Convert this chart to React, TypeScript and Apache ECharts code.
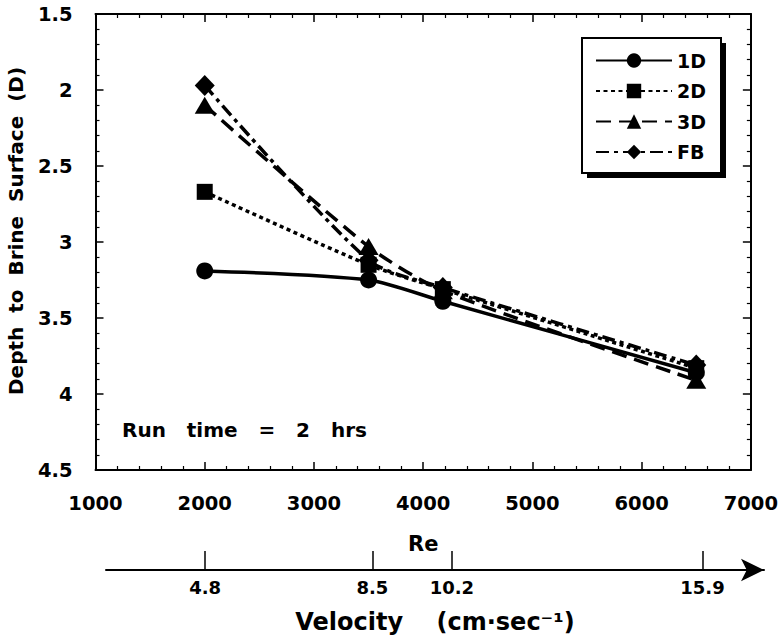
import React, { useEffect, useRef } from "react";
import * as echarts from "echarts";

// ---- data ----
const seriesNames = ["1D", "2D", "3D", "FB"];
const reValues = [2000, 3500, 4180, 6500];
const depth1D = [3.19, 3.25, 3.39, 3.86];
const depth2D = [2.67, 3.15, 3.31, 3.83];
const depth3D = [2.1, 3.03, 3.32, 3.91];
const depthFB = [1.97, 3.12, 3.3, 3.81];
const velocityLabels = ["4.8", "8.5", "10.2", "15.9"];
const velocityRePositions = [2000, 3525, 4250, 6535];

const FONT = "DejaVu Sans";

// layout constants
const GRID_LEFT = 95.5;
const GRID_TOP = 14;
const GRID_W = 658;
const GRID_H = 456;
const RE_MIN = 1000;
const RE_MAX = 7000;
const PX_PER_RE = GRID_W / (RE_MAX - RE_MIN);
const VEL_LEFT = 106;
const VEL_RIGHT = 764;

export default function App() {
  const ref = useRef<HTMLDivElement>(null);

  useEffect(() => {
    if (!ref.current) return;
    const chart = echarts.init(ref.current, undefined, { renderer: "svg" });

    const toPairs = (ys: number[]) => reValues.map((x, i) => [x, ys[i]]);
    const velMin = RE_MIN + (VEL_LEFT - GRID_LEFT) / PX_PER_RE;
    const velMax = RE_MIN + (VEL_RIGHT - GRID_LEFT) / PX_PER_RE;

    const baseText = { fontFamily: FONT, fontWeight: "bold" as const, color: "#000" };

    const mainAxisCommon = {
      axisLine: { onZero: false, lineStyle: { color: "#000", width: 2 } },
      axisTick: { inside: true, length: 8, lineStyle: { color: "#000", width: 1.5 } },
      minorTick: { show: true, splitNumber: 5, length: 4, lineStyle: { color: "#000", width: 1.2 } },
      splitLine: { show: false },
    };

    const seriesDefs = [
      { name: seriesNames[0], data: depth1D, symbol: "circle", symbolSize: 17, line: "solid" as any },
      { name: seriesNames[1], data: depth2D, symbol: "rect", symbolSize: 16, line: [4, 3.5] },
      { name: seriesNames[2], data: depth3D, symbol: "triangle", symbolSize: [20, 17], line: [15, 8] },
      { name: seriesNames[3], data: depthFB, symbol: "diamond", symbolSize: [20, 21], line: [13, 5, 4, 5] },
    ];

    chart.setOption({
      animation: false,
      backgroundColor: "#fff",
      grid: [
        { left: GRID_LEFT, top: GRID_TOP, width: GRID_W, height: GRID_H },
        { left: VEL_LEFT, top: 551, width: VEL_RIGHT - VEL_LEFT, height: 19 },
      ],
      xAxis: [
        {
          ...mainAxisCommon,
          type: "value",
          gridIndex: 0,
          position: "bottom",
          min: RE_MIN,
          max: RE_MAX,
          interval: 1000,
          name: "Re",
          nameLocation: "middle",
          nameGap: 63,
          nameTextStyle: { ...baseText, fontSize: 21 },
          axisLabel: { ...baseText, fontSize: 19.5, margin: 23, formatter: (v: number) => String(v) },
        },
        {
          ...mainAxisCommon,
          type: "value",
          gridIndex: 0,
          position: "top",
          min: RE_MIN,
          max: RE_MAX,
          interval: 1000,
          axisLabel: { show: false },
        },
        {
          type: "value",
          gridIndex: 1,
          position: "bottom",
          min: velMin,
          max: velMax,
          name: "Velocity    (cm·sec⁻¹)",
          nameLocation: "middle",
          nameGap: 40,
          nameTextStyle: { ...baseText, fontSize: 24 },
          axisLine: {
            onZero: false,
            lineStyle: { color: "#000", width: 2 },
            symbol: ["none", "arrow"],
            symbolSize: [17, 23],
          },
          axisTick: {
            inside: true,
            length: 19,
            customValues: velocityRePositions,
            lineStyle: { color: "#000", width: 1.5 },
          },
          axisLabel: {
            ...baseText,
            fontSize: 18,
            margin: 8,
            customValues: velocityRePositions,
            formatter: (v: number) => {
              const idx = velocityRePositions.findIndex((p) => Math.abs(p - v) < 1e-6);
              return idx >= 0 ? velocityLabels[idx] : "";
            },
          },
          splitLine: { show: false },
        },
      ],
      yAxis: [
        {
          ...mainAxisCommon,
          type: "value",
          gridIndex: 0,
          position: "left",
          inverse: true,
          min: 1.5,
          max: 4.5,
          interval: 0.5,
          axisLabel: { ...baseText, fontSize: 19.5, margin: 23 },
        },
        {
          ...mainAxisCommon,
          type: "value",
          gridIndex: 0,
          position: "right",
          inverse: true,
          min: 1.5,
          max: 4.5,
          interval: 0.5,
          axisLabel: { show: false },
        },
        {
          type: "value",
          gridIndex: 1,
          min: 0,
          max: 1,
          show: false,
        },
      ],
      legend: {
        orient: "vertical",
        left: 595,
        top: 51,
        padding: 0,
        itemWidth: 76,
        itemHeight: 18,
        itemGap: 11.5,
        selectedMode: false,
        data: seriesNames,
        textStyle: { ...baseText, fontSize: 19, lineHeight: 19 },
        z: 10,
      },
      graphic: [
        {
          type: "rect",
          z: 5,
          shape: { x: 587, y: 43, width: 139, height: 135 },
          style: { fill: "#000" },
        },
        {
          type: "rect",
          z: 6,
          shape: { x: 582, y: 38, width: 139, height: 135 },
          style: { fill: "#fff", stroke: "#000", lineWidth: 2 },
        },
        {
          type: "text",
          z: 6,
          x: 16,
          y: 231,
          rotation: Math.PI / 2,
          style: {
            text: "Depth  to  Brine  Surface  (D)",
            font: `bold 20px "${FONT}"`,
            fill: "#000",
            align: "center",
            verticalAlign: "middle",
          },
        },
        {
          type: "text",
          z: 6,
          x: 122,
          y: 430,
          style: {
            text: "Run   time   =   2   hrs",
            font: `bold 20px "${FONT}"`,
            fill: "#000",
            align: "left",
            verticalAlign: "middle",
          },
        },
      ],
      series: seriesDefs.map((s) => ({
        name: s.name,
        type: "line",
        xAxisIndex: 0,
        yAxisIndex: 0,
        data: toPairs(s.data),
        smooth: 0.25,
        symbol: s.symbol,
        symbolSize: s.symbolSize,
        showAllSymbol: true,
        itemStyle: { color: "#000" },
        lineStyle: { color: "#000", width: 3.5, type: s.line },
        z: 3,
      })),
    });

    return () => chart.dispose();
  }, []);

  return (
    <div
      ref={ref}
      style={{ position: "fixed", left: 0, top: 0, width: 781, height: 638, background: "#fff" }}
    />
  );
}
